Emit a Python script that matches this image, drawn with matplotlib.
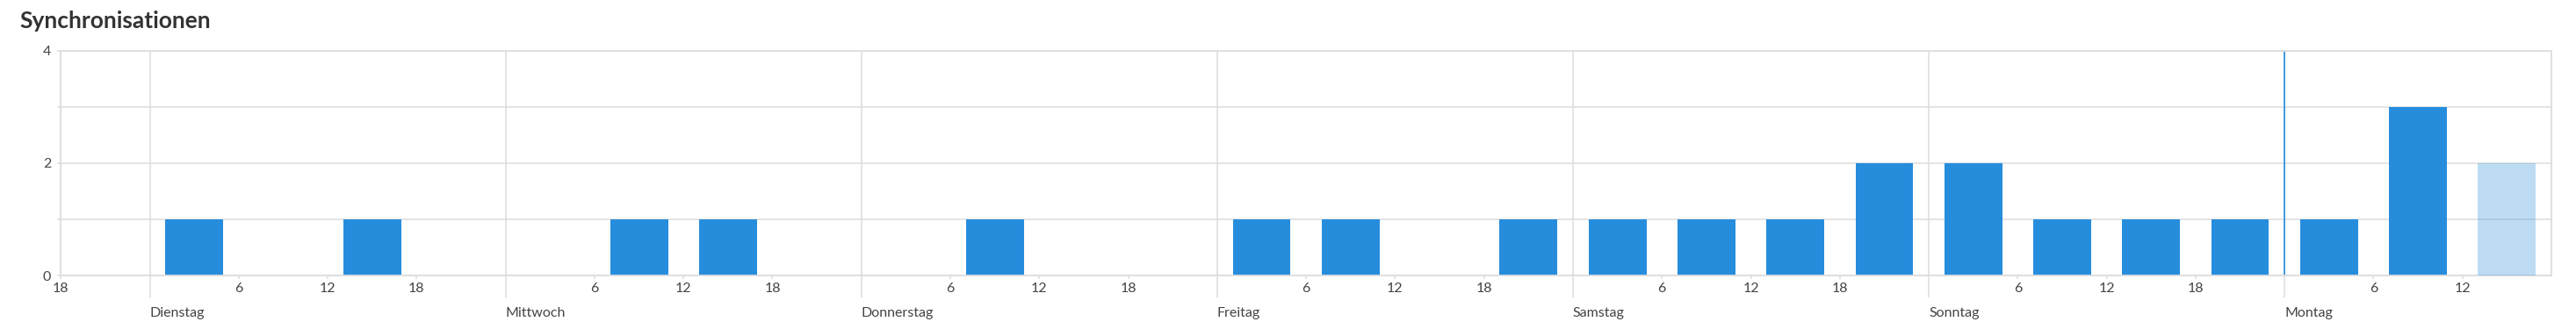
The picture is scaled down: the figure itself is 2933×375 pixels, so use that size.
import matplotlib
matplotlib.use("Agg")
import matplotlib.pyplot as plt
from matplotlib.ticker import FixedLocator, FixedFormatter

plt.rcParams['font.family'] = ['Lato', 'DejaVu Sans']

# Stunden seit Montag 00:00 (erste Woche), 6-Stunden-Intervalle
bin_start = [24, 36, 54, 60, 78, 96, 102, 114, 120, 126, 132, 138,
             144, 150, 156, 162, 168, 174, 180]
counts = [1, 1, 1, 1, 1, 1, 1, 1, 1, 1, 1, 2,
          2, 1, 1, 1, 1, 3, 2]
current_bin = 180  # laufendes Intervall, heller dargestellt

day_pos = [24, 48, 72, 96, 120, 144, 168]
day_names = ["Dienstag", "Mittwoch", "Donnerstag", "Freitag",
             "Samstag", "Sonntag", "Montag"]
hour_pos = [h for h in range(18, 181, 6) if h % 24 != 0]
hour_names = [str(h % 24) for h in hour_pos]

x_min, x_max = 18, 186
y_max = 4

blue = '#268ddd'
grid_col = '#dddddd'
text_col = '#444444'

fig = plt.figure(figsize=(29.33, 3.75), dpi=100)
ax = fig.add_axes([69.3 / 2933, 1 - 314 / 375, (2905 - 69.3) / 2933, (314 - 57.5) / 375])

for x, c in zip(bin_start, counts):
    if x == current_bin:
        ax.bar(x + 3, c, width=3.9, color=blue, alpha=0.3, zorder=3, linewidth=0)
    else:
        ax.bar(x + 3, c, width=3.9, color=blue, zorder=2, linewidth=0)

ax.set_xlim(x_min, x_max)
ax.set_ylim(0, y_max)

# x-Achse: Tage als Hauptticks, Stunden als Nebenticks
ax.xaxis.set_major_locator(FixedLocator(day_pos))
ax.xaxis.set_major_formatter(FixedFormatter(day_names))
ax.xaxis.set_minor_locator(FixedLocator(hour_pos))
ax.xaxis.set_minor_formatter(FixedFormatter(hour_names))
ax.tick_params(axis='x', which='major', length=18, width=1.1, color=grid_col,
               labelsize=11.5, labelcolor=text_col, pad=8)
ax.tick_params(axis='x', which='minor', length=3, width=1.1, color=grid_col,
               labelsize=11.5, labelcolor=text_col, pad=3)
for lab in ax.get_xticklabels():
    lab.set_horizontalalignment('left')

# y-Achse
ax.set_yticks([0, 2, 4])
ax.set_yticks([1, 3], minor=True)
ax.tick_params(axis='y', which='both', length=3, width=1.1, color=grid_col,
               labelsize=11.5, labelcolor=text_col, pad=5)

ax.grid(True, axis='y', which='both', color=grid_col, linewidth=1.1, zorder=0)
ax.grid(True, axis='x', which='major', color=grid_col, linewidth=1.1, zorder=0)
ax.set_axisbelow(True)
ax.axvline(168, color=blue, linewidth=1.2, zorder=1)

for s in ax.spines.values():
    s.set_color(grid_col)
    s.set_linewidth(1.3)

fig.text(22 / 2933, 1 - 32 / 375, "Synchronisationen", fontsize=19,
         fontweight='bold', color='#333333', va='baseline', ha='left')

fig.savefig("out.png", dpi=100)
